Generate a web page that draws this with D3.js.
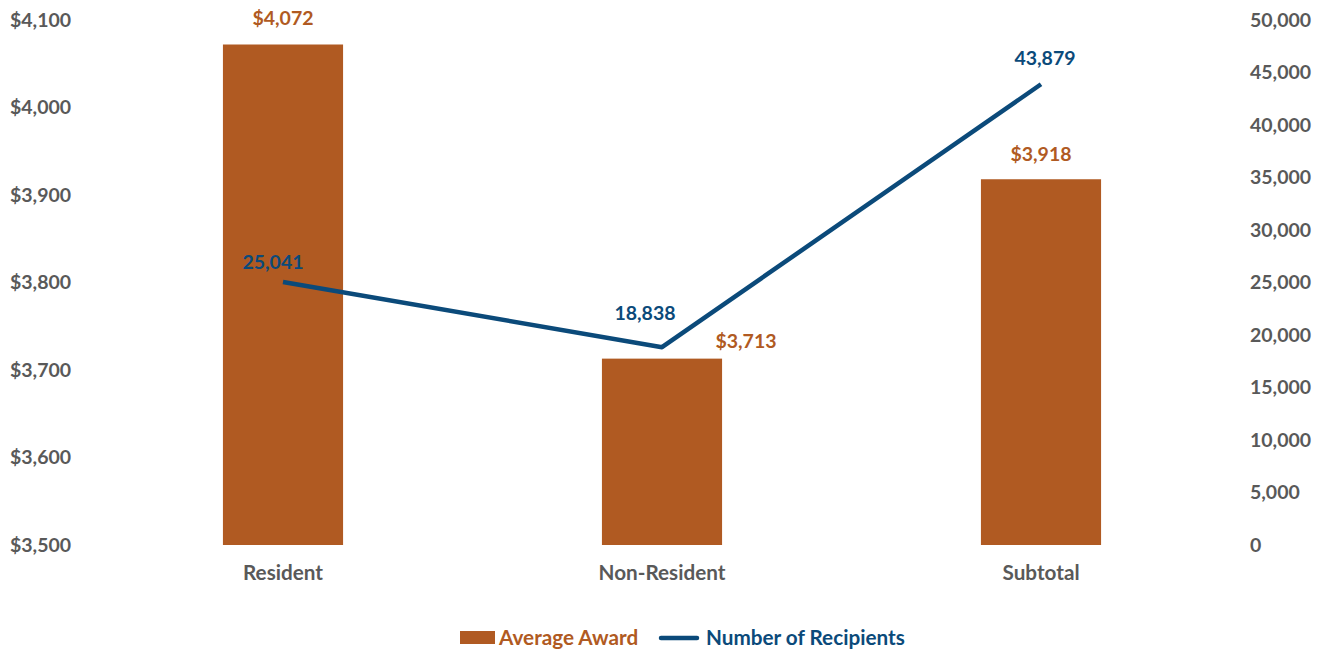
<!DOCTYPE html>
<html>
<head>
<meta charset="utf-8">
<script src="https://cdn.jsdelivr.net/npm/d3@7"></script>
<style>
  html, body { margin: 0; padding: 0; background: #fff; }
  svg text { font-family: Lato, "Open Sans", "Liberation Sans", sans-serif; font-weight: 700; }
</style>
</head>
<body>
<svg id="chart" width="1324" height="650"></svg>
<script>
// Award data by residency
const categories = ["Resident", "Non-Resident", "Subtotal"];
const averageAward = [4072, 3713, 3918];
const recipients = [25041, 18838, 43879];
const leftTicks = [3500, 3600, 3700, 3800, 3900, 4000, 4100];
const rightTicks = [0, 5000, 10000, 15000, 20000, 25000, 30000, 35000, 40000, 45000, 50000];

const barColor = "#b05a22";
const lineColor = "#0b4a7a";
const axisColor = "#595959";
const numSize = 19.5, wordSize = 20.7;

const svg = d3.select("#chart");
const plotTop = 20, plotBottom = 545;

const x = d3.scaleBand().domain(categories).range([93.5, 1230.5]).paddingInner(0.683).paddingOuter(0.3415);
const yL = d3.scaleLinear().domain([3500, 4100]).range([plotBottom, plotTop]);
const yR = d3.scaleLinear().domain([0, 50000]).range([plotBottom, plotTop]);

const money = d3.format("$,");
const num = d3.format(",");

// Left axis labels
svg.append("g").selectAll("text").data(leftTicks).join("text")
  .attr("x", 10).attr("y", d => yL(d)).attr("dy", "0.35em")
  .attr("fill", axisColor).attr("font-size", numSize)
  .text(d => money(d));

// Right axis labels
svg.append("g").selectAll("text").data(rightTicks).join("text")
  .attr("x", 1250).attr("y", d => yR(d)).attr("dy", "0.35em")
  .attr("fill", axisColor).attr("font-size", numSize)
  .text(d => num(d));

// Bars
svg.append("g").selectAll("rect").data(categories).join("rect")
  .attr("x", d => x(d)).attr("width", x.bandwidth())
  .attr("y", (d, i) => yL(averageAward[i]))
  .attr("height", (d, i) => plotBottom - yL(averageAward[i]))
  .attr("fill", barColor);

// Category labels
svg.append("g").selectAll("text").data(categories).join("text")
  .attr("x", d => x(d) + x.bandwidth() / 2).attr("y", 573).attr("dy", "0.35em")
  .attr("text-anchor", "middle").attr("fill", axisColor).attr("font-size", wordSize)
  .text(d => d);

// Recipients line
const cx = d => x(d) + x.bandwidth() / 2;
svg.append("path")
  .datum(categories)
  .attr("fill", "none").attr("stroke", lineColor).attr("stroke-width", 4.5)
  .attr("stroke-linejoin", "round")
  .attr("d", d3.line().x(d => cx(d)).y((d, i) => yR(recipients[i])));

// Bar value labels
const barLabelOffset = [[0, -26], [84, -17], [0, -25]];
svg.append("g").selectAll("text").data(categories).join("text")
  .attr("x", (d, i) => cx(d) + barLabelOffset[i][0])
  .attr("y", (d, i) => yL(averageAward[i]) + barLabelOffset[i][1]).attr("dy", "0.35em")
  .attr("text-anchor", "middle").attr("fill", barColor).attr("font-size", numSize)
  .text((d, i) => money(averageAward[i]));

// Line value labels
const lineLabelOffset = [[-10, -20], [-17, -34], [4, -26]];
svg.append("g").selectAll("text").data(categories).join("text")
  .attr("x", (d, i) => cx(d) + lineLabelOffset[i][0])
  .attr("y", (d, i) => yR(recipients[i]) + lineLabelOffset[i][1]).attr("dy", "0.35em")
  .attr("text-anchor", "middle").attr("fill", lineColor).attr("font-size", numSize)
  .text((d, i) => num(recipients[i]));

// Legend
const lg = svg.append("g");
lg.append("rect").attr("x", 460).attr("y", 631).attr("width", 35).attr("height", 13).attr("fill", barColor);
lg.append("text").attr("x", 499).attr("y", 638).attr("dy", "0.35em").attr("fill", barColor)
  .attr("font-size", wordSize).text("Average Award");
lg.append("line").attr("x1", 661).attr("x2", 697).attr("y1", 638).attr("y2", 638)
  .attr("stroke", lineColor).attr("stroke-width", 4.5).attr("stroke-linecap", "round");
lg.append("text").attr("x", 706).attr("y", 638).attr("dy", "0.35em").attr("fill", lineColor)
  .attr("font-size", wordSize).text("Number of Recipients");
</script>
</body>
</html>
